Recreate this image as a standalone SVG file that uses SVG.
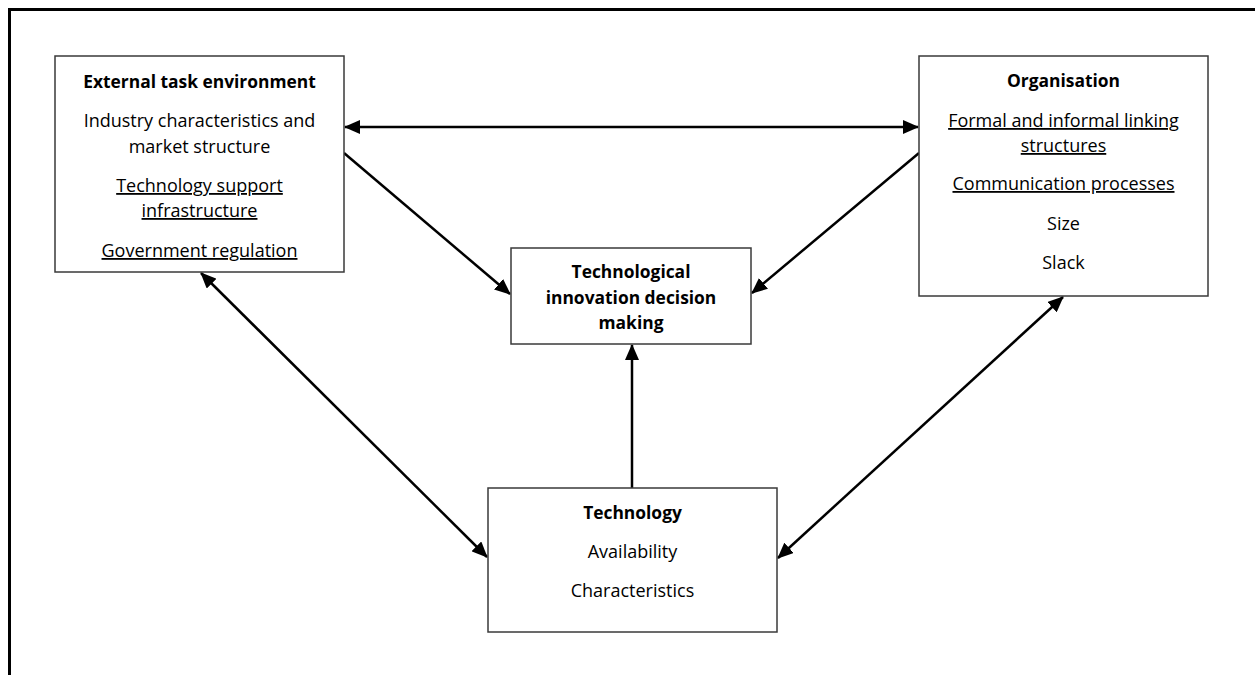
<svg xmlns="http://www.w3.org/2000/svg" width="1255" height="675" viewBox="0 0 1255 675">
<style>
.box{fill:#fff;stroke:#3a3a3a;stroke-width:1.5}
.t{font-family:"Open Sans","Liberation Sans",sans-serif;font-size:18px;fill:#000;text-anchor:middle}
.b{font-weight:bold;font-size:17.4px}
.u{text-decoration:underline}
.c{fill:none;stroke:#000;stroke-width:2.5}
.frame{fill:none;stroke:#000;stroke-width:3}
</style>
<defs>
<marker id="ah" viewBox="0 0 16 14" refX="15" refY="7" markerWidth="16" markerHeight="14" markerUnits="userSpaceOnUse" orient="auto-start-reverse">
<path d="M0,0 L16,7 L0,14 z" fill="#000"/>
</marker>
</defs>
<path class="frame" d="M9.5,675 L9.5,9.5 L1255,9.5"/>
<g id="connectors">
<line class="c" x1="345" y1="127" x2="918" y2="127" marker-start="url(#ah)" marker-end="url(#ah)"/>
<line class="c" x1="344" y1="153" x2="510" y2="294" marker-end="url(#ah)"/>
<line class="c" x1="919" y1="153" x2="752" y2="293" marker-end="url(#ah)"/>
<line class="c" x1="632" y1="488" x2="632" y2="345" marker-end="url(#ah)"/>
<line class="c" x1="201" y1="273" x2="487" y2="557" marker-start="url(#ah)" marker-end="url(#ah)"/>
<line class="c" x1="1063" y1="297" x2="778" y2="558" marker-start="url(#ah)" marker-end="url(#ah)"/>
</g>
<g id="external">
<rect class="box" x="55" y="56" width="289" height="216"/>
<text class="t b" x="199.5" y="88">External task environment</text>
<text class="t" x="199.5" y="127">Industry characteristics and</text>
<text class="t" x="199.5" y="153">market structure</text>
<text class="t u" x="199.5" y="192">Technology support</text>
<text class="t u" x="199.5" y="217">infrastructure</text>
<text class="t u" x="199.5" y="257">Government regulation</text>
</g>
<g id="organisation">
<rect class="box" x="919" y="56" width="289" height="240"/>
<text class="t b" x="1063.5" y="87">Organisation</text>
<text class="t u" x="1063.5" y="127">Formal and informal linking</text>
<text class="t u" x="1063.5" y="152">structures</text>
<text class="t u" x="1063.5" y="190">Communication processes</text>
<text class="t" x="1063.5" y="230">Size</text>
<text class="t" x="1063.5" y="269">Slack</text>
</g>
<g id="decision">
<rect class="box" x="511" y="248" width="240" height="96"/>
<text class="t b" x="631" y="278">Technological</text>
<text class="t b" x="631" y="304">innovation decision</text>
<text class="t b" x="631" y="329">making</text>
</g>
<g id="technology">
<rect class="box" x="488" y="488" width="289" height="144"/>
<text class="t b" x="632.5" y="519">Technology</text>
<text class="t" x="632.5" y="558">Availability</text>
<text class="t" x="632.5" y="597">Characteristics</text>
</g>
</svg>
